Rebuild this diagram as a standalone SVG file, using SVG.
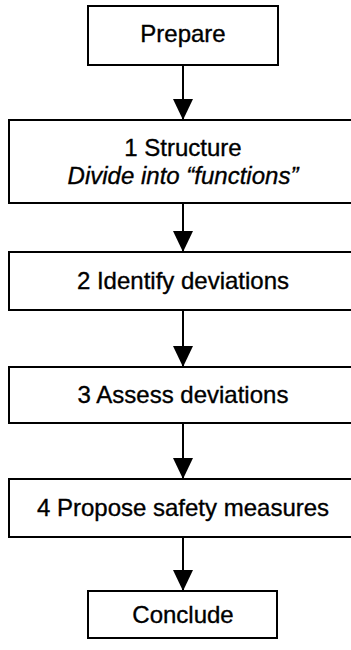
<svg xmlns="http://www.w3.org/2000/svg" width="351" height="650" viewBox="0 0 351 650">
  <style>
    .box { fill: #ffffff; stroke: #000000; stroke-width: 2; }
    .label { font-family: "Liberation Sans", Arial, sans-serif; font-size: 24px; fill: #000000; stroke: #000000; stroke-width: 0.35; text-anchor: middle; }
    .em { font-style: italic; }
    .link { stroke: #000000; stroke-width: 2; fill: none; marker-end: url(#head); }
  </style>
  <defs>
    <!-- solid arrowhead, tip placed on the end of the line -->
    <marker id="head" markerUnits="userSpaceOnUse" markerWidth="22" markerHeight="22" viewBox="0 0 22 22" refX="21" refY="11" orient="auto">
      <path d="M0,1 L21,11 L0,21 Z" fill="#000000"/>
    </marker>
  </defs>
  <rect width="351" height="650" fill="#ffffff"/>

  <g id="connectors">
    <line class="link" x1="183" y1="65" x2="183" y2="120"/>
    <line class="link" x1="183" y1="203" x2="183" y2="252"/>
    <line class="link" x1="183" y1="310" x2="183" y2="367"/>
    <line class="link" x1="183" y1="423" x2="183" y2="479"/>
    <line class="link" x1="183" y1="537" x2="183" y2="591"/>
  </g>

  <g id="prepare">
    <rect class="box" x="88" y="6" width="190" height="59"/>
    <text class="label" x="183" y="42">Prepare</text>
  </g>

  <g id="structure">
    <rect class="box" x="9" y="120" width="346" height="83"/>
    <text class="label" x="183" y="156">1 Structure</text>
    <text class="label em" x="183" y="184">Divide into “functions”</text>
  </g>

  <g id="identify">
    <rect class="box" x="9" y="252" width="346" height="58"/>
    <text class="label" x="183" y="289">2 Identify deviations</text>
  </g>

  <g id="assess">
    <rect class="box" x="9" y="367" width="346" height="56"/>
    <text class="label" x="183" y="403">3 Assess deviations</text>
  </g>

  <g id="propose">
    <rect class="box" x="9" y="479" width="346" height="58"/>
    <text class="label" x="183" y="516">4 Propose safety measures</text>
  </g>

  <g id="conclude">
    <rect class="box" x="88" y="591" width="189" height="47"/>
    <text class="label" x="183" y="623">Conclude</text>
  </g>
</svg>
